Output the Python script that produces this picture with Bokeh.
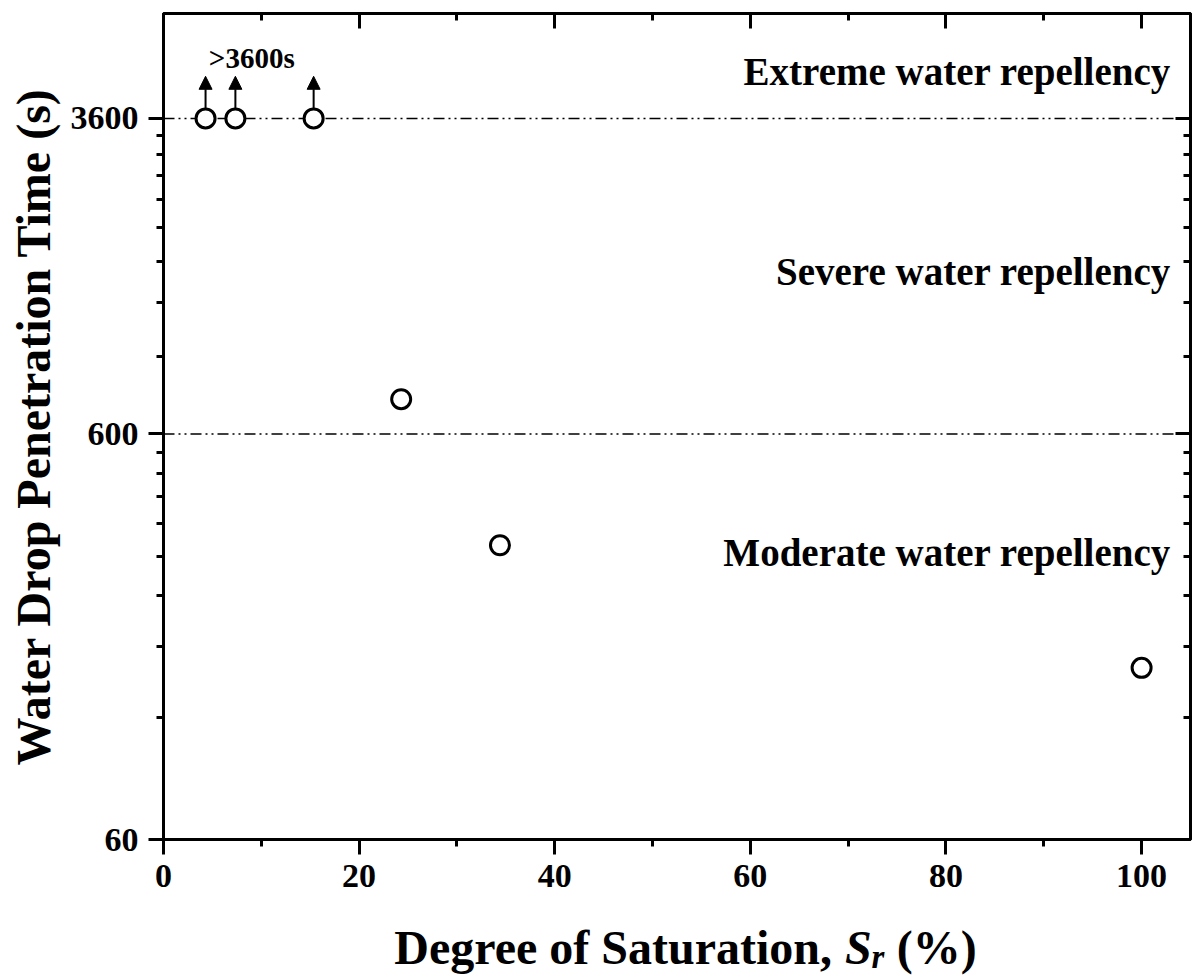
import math
from bokeh.plotting import figure
from bokeh.models import (Range1d, FixedTicker, LinearAxis, LogAxis, Span, Label, LogScale,
                          Arrow, NormalHead, ColumnDataSource, CustomJSTickFormatter,
                          NumeralTickFormatter)
from bokeh.layouts import column
from bokeh.core.properties import value
from bokeh.embed import file_html
from bokeh.resources import INLINE

# ---------------- data ----------------
sr = [4.3, 7.35, 15.35, 24.3, 34.4, 100.0]          # degree of saturation (%)
wdpt = [3600, 3600, 3600, 731, 319, 159]             # water drop penetration time (s)
censored = [True, True, True, False, False, False]  # >3600 s
class_limits = [600, 3600]
class_names = ["Moderate water repellency", "Severe water repellency", "Extreme water repellency"]
class_label_y = [306, 1507, 4703]
x_ticks = [0, 20, 40, 60, 80, 100]
x_minor = [10, 30, 50, 70, 90]
y_ticks = [60, 600, 3600]

FONT = "Liberation Serif"
x_lo, x_hi = 0, 105.0
y_lo, y_hi = 60, 6530

# minor ticks: 8 evenly spaced (linear) between majors
y_minor = []
for a, b in zip(y_ticks[:-1], y_ticks[1:]):
    y_minor += [a + (b - a) * k / 9 for k in range(1, 9)]

W = 1193
H_MAIN = 905
H_TITLE = 979 - H_MAIN
FL, FR = 163, 1190   # frame left/right in pixels

p = figure(width=W, height=H_MAIN, output_backend="svg", toolbar_location=None,
           y_axis_type=None, x_axis_type=None,
           x_range=Range1d(x_lo, x_hi), y_range=Range1d(y_lo, y_hi),
           min_border_left=FL, min_border_right=W - FR, min_border_top=13,
           min_border_bottom=H_MAIN - 839)
p.y_scale = LogScale()
p.background_fill_color = "white"
p.border_fill_color = "white"
p.outline_line_color = "black"
p.outline_line_width = 3


def style_axis(ax, inward, labels):
    ax.axis_line_width = 3
    ax.axis_line_color = "black"
    ax.major_tick_line_width = 3
    ax.minor_tick_line_width = 3
    ax.major_tick_line_color = "black"
    ax.minor_tick_line_color = "black"
    if inward:
        ax.major_tick_in, ax.major_tick_out = 15, 0
        ax.minor_tick_in, ax.minor_tick_out = 7, 0
    else:
        ax.major_tick_in, ax.major_tick_out = 0, 15
        ax.minor_tick_in, ax.minor_tick_out = 0, 7
    if labels:
        ax.major_label_text_font = FONT
        ax.major_label_text_font_style = "bold"
        ax.major_label_text_font_size = "34px"
        ax.major_label_text_color = "black"
        ax.major_label_standoff = 10
    else:
        ax.formatter = CustomJSTickFormatter(code="return ''")
        ax.major_label_text_font_size = "0px"
        ax.major_label_standoff = 0


xb = LinearAxis(ticker=FixedTicker(ticks=x_ticks, minor_ticks=x_minor))
style_axis(xb, False, True)
xt = LinearAxis(ticker=FixedTicker(ticks=x_ticks, minor_ticks=x_minor))
style_axis(xt, True, False)
yl = LogAxis(ticker=FixedTicker(ticks=y_ticks, minor_ticks=y_minor),
             formatter=NumeralTickFormatter(format="0"))
style_axis(yl, False, True)
yl.axis_label = "Water Drop Penetration Time (s)"
yl.axis_label_text_font = FONT
yl.axis_label_text_font_style = "bold"
yl.axis_label_text_font_size = "48px"
yl.axis_label_text_color = "black"
yl.axis_label_standoff = 8
yr = LogAxis(ticker=FixedTicker(ticks=y_ticks, minor_ticks=y_minor))
style_axis(yr, True, False)
p.add_layout(xb, "below")
p.add_layout(xt, "above")
p.add_layout(yl, "left")
p.add_layout(yr, "right")
p.xgrid.visible = False
p.ygrid.visible = False

# class boundaries
for lim in class_limits:
    p.add_layout(Span(location=lim, dimension="width", line_color="black",
                      line_width=1.5, line_dash="11 4 2 4 2 4", level="underlay"))

# class names
for name, yv in zip(class_names, class_label_y):
    p.add_layout(Label(x=103.0, y=yv, text=name, text_align="right",
                       text_baseline="alphabetic", text_font=FONT,
                       text_font_style="bold", text_font_size="39px", text_color="black"))

# arrows for censored points
ax_x = [x for x, c in zip(sr, censored) if c]
ax_y = [y for y, c in zip(wdpt, censored) if c]
arr_src = ColumnDataSource(dict(x=ax_x, y0=[v * 1.057 for v in ax_y], y1=[v * 1.27 for v in ax_y]))
p.add_layout(Arrow(end=NormalHead(size=13, fill_color="black", line_color="black", line_width=1),
                   x_start="x", y_start="y0", x_end="x", y_end="y1",
                   source=arr_src, line_color="black", line_width=2))
p.add_layout(Label(x=sum(ax_x[:2]) / 2 + 3.2, y=ax_y[0] * 1.41, text=">3600s", text_align="center",
                   text_baseline="alphabetic", text_font=FONT, text_font_style="bold",
                   text_font_size="29px", text_color="black"))

# data points
p.scatter(sr, wdpt, marker="circle", size=19, fill_color="white",
          line_color="black", line_width=3)

# ---------------- x-axis title strip (mixed styles), coordinates = pixels ----------------
t = figure(width=W, height=H_TITLE, output_backend="svg", toolbar_location=None, title=None,
           x_range=Range1d(FL, FR), y_range=Range1d(0, H_TITLE),
           min_border_left=FL, min_border_right=W - FR, min_border_top=0, min_border_bottom=0,
           x_axis_type=None, y_axis_type=None)
t.outline_line_color = None
t.xgrid.visible = False
t.ygrid.visible = False
t.background_fill_color = "white"
t.border_fill_color = "white"

F = 48
w_main, w_sp, w_S, w_r, w_pct = 9.137, 0.25, 0.556, 0.7 * 0.389, 1.666
total = (w_main + w_sp + w_S + w_r + w_sp + w_pct) * F
center = 685
x0 = center - total / 2
base = 32
xs = x0 + (w_main + w_sp) * F
xr = xs + w_S * F
xp = xr + (w_r + w_sp) * F
t.text(x=[x0], y=[base], text=["Degree of Saturation,"], text_align="left",
       text_baseline="alphabetic", text_font=value(FONT), text_font_style="bold",
       text_font_size=f"{F}px", text_color="black")
t.text(x=[xs], y=[base], text=["S"], text_align="left",
       text_baseline="alphabetic", text_font=value(FONT), text_font_style="bold italic",
       text_font_size=f"{F}px", text_color="black")
t.text(x=[xr], y=[base - 0.2 * F], text=["r"], text_align="left",
       text_baseline="alphabetic", text_font=value(FONT), text_font_style="bold italic",
       text_font_size=f"{int(0.7 * F)}px", text_color="black")
t.text(x=[xp], y=[base], text=["(%)"], text_align="left",
       text_baseline="alphabetic", text_font=value(FONT), text_font_style="bold",
       text_font_size=f"{F}px", text_color="black")

layout = column(p, t, spacing=0)
open("out.html", "w").write(file_html(layout, INLINE))
